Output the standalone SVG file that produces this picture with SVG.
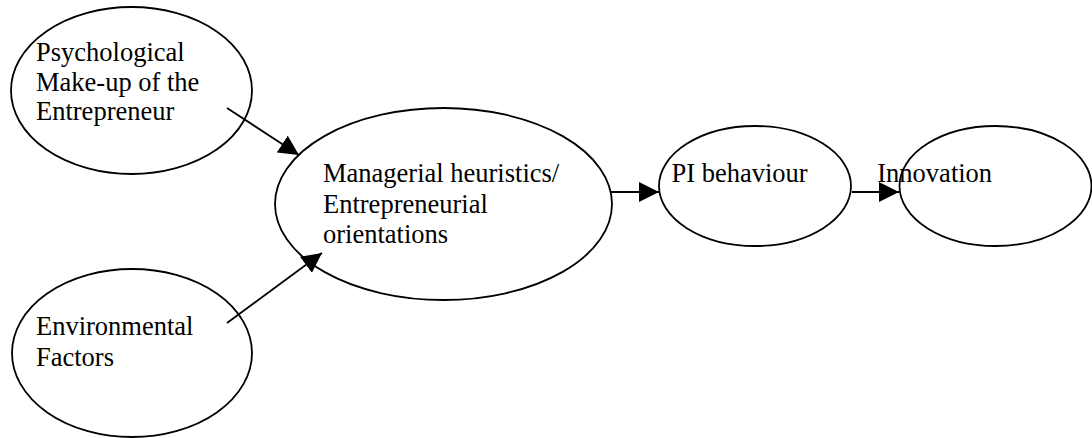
<svg xmlns="http://www.w3.org/2000/svg" width="1092" height="438" viewBox="0 0 1092 438">
<style>
.node ellipse{fill:#fff;stroke:#000;stroke-width:1.8}
.node text{font-family:"Liberation Serif","Times New Roman",serif;font-size:26.5px;fill:#000}
.conn line{stroke:#000;stroke-width:1.8;marker-end:url(#ah)}
</style>
<defs>
<marker id="ah" markerUnits="userSpaceOnUse" markerWidth="20" markerHeight="20" refX="20" refY="10" orient="auto" viewBox="0 0 20 20">
<path d="M0,0 L20,10 L0,20 z" fill="#000"/>
</marker>
</defs>
<rect width="1092" height="438" fill="#fff"/>
<g id="n-psych" class="node">
<ellipse cx="131.5" cy="90.5" rx="120.5" ry="83.5"/>
<text x="36" y="61">Psychological</text>
<text x="36" y="90.5">Make-up of the</text>
<text x="36" y="120">Entrepreneur</text>
</g>
<g id="n-env" class="node">
<ellipse cx="132" cy="353" rx="120" ry="84"/>
<text x="36" y="335">Environmental</text>
<text x="36" y="365.5">Factors</text>
</g>
<g id="n-man" class="node">
<ellipse cx="443.5" cy="204" rx="168.5" ry="96"/>
<text x="323" y="181.7">Managerial heuristics/</text>
<text x="323" y="213">Entrepreneurial</text>
<text x="323" y="242.7">orientations</text>
</g>
<g id="n-pi" class="node">
<ellipse cx="755" cy="186" rx="96" ry="60"/>
<text x="671.5" y="181.7">PI behaviour</text>
</g>
<g id="n-inn" class="node">
<ellipse cx="995.5" cy="186" rx="96" ry="60"/>
</g>
<g id="connectors" class="conn">
<line x1="227" y1="108" x2="299" y2="155"/>
<line x1="227" y1="323" x2="322" y2="253"/>
<line x1="610" y1="192" x2="659" y2="192"/>
<line x1="852" y1="192" x2="899" y2="192"/>
</g>
<g id="n-inn-label" class="node">
<text x="877.3" y="181.7">Innovation</text>
</g>
</svg>
